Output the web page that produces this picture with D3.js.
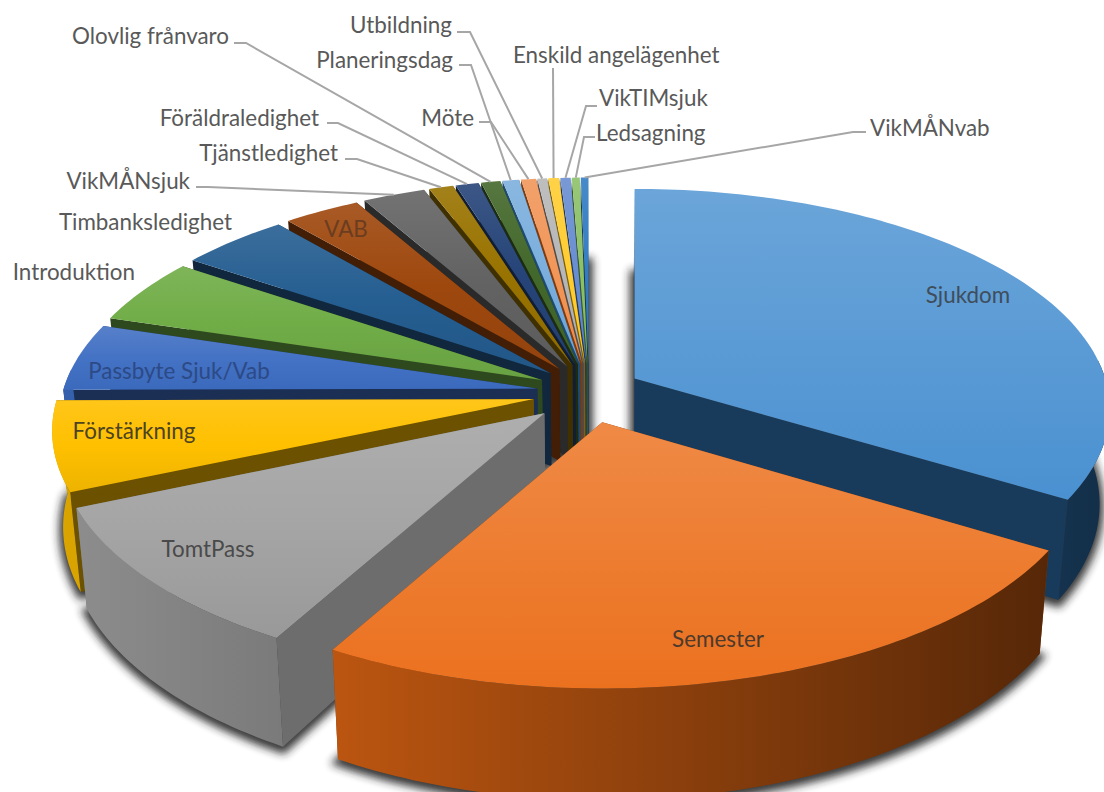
<!DOCTYPE html>
<html lang="sv">
<head>
  <meta charset="UTF-8">
  <title>Frånvaro</title>
  <style>
    html, body { margin: 0; background: #fff; }
    svg { display: block; }
  </style>
</head>
<body>
  <svg id="chart" width="1104" height="792"></svg>
  <script src="https://d3js.org/d3.v7.min.js"></script>
  <script>
    // slices in clockwise order, first one starts at 12 o'clock
    const categories = ['Sjukdom','Semester','TomtPass','Förstärkning','Passbyte Sjuk/Vab','Introduktion','Timbanksledighet','VAB','VikMÅNsjuk','Tjänstledighet','Föräldraledighet','Olovlig frånvaro','Planeringsdag','Möte','Utbildning','Enskild angelägenhet','VikTIMsjuk','Ledsagning','VikMÅNvab'];
    const values = [33.7,24.4,10.4,6.4,4.9,4.8,4.3,3.0,2.45,0.95,0.9,0.75,0.65,0.58,0.37,0.42,0.4,0.31,0.3];
    const colors = ['#5b9bd5','#ed7d31','#a5a5a5','#ffc000','#4472c4','#70ad47','#255e91','#9e480e','#636363','#997300','#264478','#43682b','#7cafdd','#f1975a','#b7b7b7','#ffcd33','#698ed0','#8cc168','#327dc2'];

    // where the text goes: [x, baseline y, anchor, fill]
    const insideLabels = {
      'Sjukdom':[968,303,'middle','#3f4d5c'], 'Semester':[718,647,'middle','#4d3a2c'], 'TomtPass':[208,557,'middle','#4a4a4a'],
      'Förstärkning':[134,439,'middle','#4d4320'], 'Passbyte Sjuk/Vab':[179,379,'middle','#2c4a86'], 'VAB':[346,237,'middle','#6b3d20']
    };
    const outsideLabels = {
      'Timbanksledighet':[232,230,'end'], 'Introduktion':[135,280,'end']
    };
    // [text end x, baseline y, anchor, elbow start x, elbow end x, elbow y]
    const leaderLabels = {
      'VikMÅNsjuk':[190,189,'end',196,208,187],
      'Tjänstledighet':[338,161,'end',345,357,159],
      'Föräldraledighet':[319,126,'end',327,338,123],
      'Olovlig frånvaro':[229,44,'end',234,246,43],
      'Möte':[474,126,'end',479,491,122],
      'Planeringsdag':[453,68,'end',459,471,65],
      'Utbildning':[452,33,'end',457,470,32],
      'Enskild angelägenhet':[513,63,'start',553,553,68],
      'VikTIMsjuk':[599,106,'start',597,586,106],
      'Ledsagning':[596,141,'start',595,584,137],
      'VikMÅNvab':[870,136,'start',866,853,132]
    };

    const SVGWIDTH = 1104, SVGHEIGHT = 792;
    const CX = 589, CY = 393;
    const RX = 475, RY = 220;       // radius of the disc on screen
    const PERSP = 0.14;             // how much the front grows over the back
    const EXPLODE = 0.11, EXPLODE_Y = 0.135;
    const EXPLODE_X = {'TomtPass': 1.15, 'Förstärkning': 1.08}; // these sit further out sideways
    const WALL = 94;                // depth of the pie at s=1
    const LEAN = 0.02, LEAN_X = 600; // walls lean in a bit towards this x
    const WALL_FROM = 85 * Math.PI / 180, WALL_TO = 275 * Math.PI / 180; // part of the rim that faces us
    const FONT = 'Lato, "Open Sans", sans-serif';
    const FONT_SIZE = 22.4;

    const svg = d3.select('#chart').attr('viewBox', `0 0 ${SVGWIDTH} ${SVGHEIGHT}`);
    const defs = svg.append('defs');
    const shade = (c, t) => {
      const h = d3.hsl(c);
      h.l *= t;
      return h.formatHex();
    };
    const line = d3.line();

    const pie = d3.pie().sort(null).value((d) => d.value);
    const slices = pie(categories.map((name, i) => ({name, value: values[i], color: colors[i]})));

    // point on the top surface of a slice, r=0 is its tip and r=1 the rim
    function topPt(d, a, r) {
      const mid = (d.startAngle + d.endAngle) / 2;
      const ex = EXPLODE * Math.sin(mid) * (EXPLODE_X[d.data.name] || 1);
      const v = -EXPLODE_Y * Math.cos(mid) - r * Math.cos(a);
      const s = 1 / (1 - PERSP * v);
      // the explode shift is not scaled in x, so radial edges at 12 o'clock stay vertical
      return [CX + (ex + r * Math.sin(a) * s) * RX, CY + v * RY * s, s];
    }
    function low(p) {
      return [p[0] + (LEAN_X - p[0]) * LEAN, p[1] + WALL * p[2]];
    }
    function rim(d, from, to) {
      const a0 = from === undefined ? d.startAngle : from;
      const a1 = to === undefined ? d.endAngle : to;
      const n = Math.max(2, Math.ceil((a1 - a0) / 0.02));
      return d3.range(n + 1).map((i) => topPt(d, a0 + (a1 - a0) * i / n, 1));
    }
    const xy = (p) => [p[0], p[1]];

    // soft shadow under the pie, a bit bigger than the bottom face
    const shadowPt = (p) => {
      const q = low(p);
      return [q[0], q[1] + 3];
    };
    defs.append('filter').attr('id', 'blur')
      .attr('x', '-20%').attr('y', '-20%').attr('width', '140%').attr('height', '140%')
      .append('feGaussianBlur').attr('stdDeviation', 4);
    svg.append('g').attr('filter', 'url(#blur)').attr('opacity', 0.9)
      .selectAll('path').data(slices).enter().append('path')
      .attr('d', (d) => line([shadowPt(topPt(d, 0, 0))].concat(rim(d).map(shadowPt))) + 'Z')
      .attr('fill', '#222').attr('stroke', '#222').attr('stroke-width', 8);

    // gradients per slice
    slices.forEach((d, i) => {
      const g = defs.append('linearGradient').attr('id', `top${i}`)
        .attr('x1', 0).attr('y1', 0).attr('x2', 0).attr('y2', 1);
      g.append('stop').attr('offset', 0).attr('stop-color', d3.interpolateRgb(d.data.color, '#fff')(0.1));
      g.append('stop').attr('offset', 0.5).attr('stop-color', d.data.color);
      g.append('stop').attr('offset', 1).attr('stop-color', shade(d.data.color, 0.93));
      const w = defs.append('linearGradient').attr('id', `wall${i}`)
        .attr('gradientUnits', 'userSpaceOnUse')
        .attr('x1', 60).attr('y1', 0).attr('x2', 1100).attr('y2', 0);
      w.append('stop').attr('offset', 0).attr('stop-color', shade(d.data.color, 0.86));
      w.append('stop').attr('offset', 1).attr('stop-color', shade(d.data.color, 0.3));
    });

    // back slices first, the front ones paint over them
    const order = slices.slice().sort((a, b) =>
      Math.cos((b.startAngle + b.endAngle) / 2) - Math.cos((a.startAngle + a.endAngle) / 2));

    const faceShade = {'TomtPass': 0.66, 'Sjukdom': 0.38, 'Semester': 0.5};
    const groups = svg.append('g').selectAll('g').data(order).enter().append('g');

    function face(d, a) {
      const apex = topPt(d, a, 0), edge = topPt(d, a, 1);
      return line([xy(apex), xy(edge), low(edge), low(apex)]) + 'Z';
    }
    ['startAngle', 'endAngle'].forEach((key) => {
      groups.append('path')
        .attr('d', (d) => face(d, d[key]))
        .attr('fill', (d) => shade(d.data.color, faceShade[d.data.name] || 0.42));
    });
    // outer wall, only the part of the rim turned towards the viewer
    groups.filter((d) => d.endAngle > WALL_FROM && d.startAngle < WALL_TO).append('path')
      .attr('d', (d) => {
        const r = rim(d, Math.max(d.startAngle, WALL_FROM), Math.min(d.endAngle, WALL_TO));
        return line(r.map(xy).concat(r.slice().reverse().map(low))) + 'Z';
      })
      .attr('fill', (d) => `url(#wall${d.index})`);
    groups.append('path')
      .attr('d', (d) => line([xy(topPt(d, 0, 0))].concat(rim(d).map(xy))) + 'Z')
      .attr('fill', (d) => `url(#top${d.index})`);

    // labels
    const labels = svg.append('g').attr('font-family', FONT).attr('font-size', FONT_SIZE);
    const addText = (name, p, fill) => labels.append('text')
      .attr('x', p[0]).attr('y', p[1]).attr('text-anchor', p[2]).attr('fill', fill).text(name);

    Object.entries(insideLabels).forEach(([name, p]) => addText(name, p, p[3]));
    Object.entries(outsideLabels).forEach(([name, p]) => addText(name, p, '#595959'));
    Object.entries(leaderLabels).forEach(([name, p]) => {
      addText(name, p, '#595959');
      const d = slices[categories.indexOf(name)];
      const end = topPt(d, (d.startAngle + d.endAngle) / 2, 1);
      labels.append('path')
        .attr('d', line([[p[3], p[5]], [p[4], p[5]], xy(end)]))
        .attr('fill', 'none').attr('stroke', '#a6a6a6').attr('stroke-width', 2);
    });
  </script>
</body>
</html>
